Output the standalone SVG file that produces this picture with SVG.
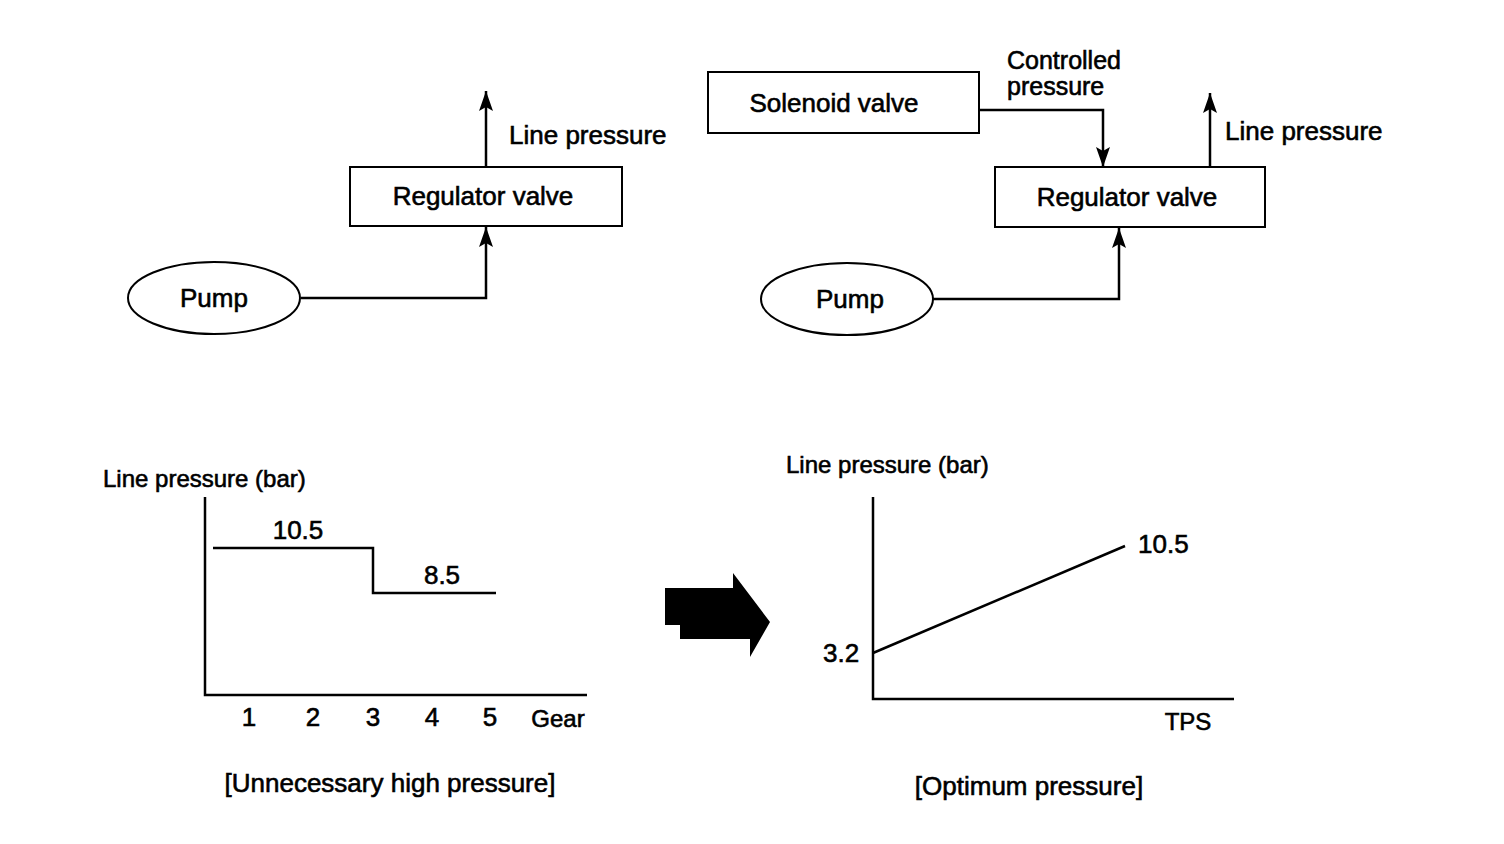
<svg xmlns="http://www.w3.org/2000/svg" width="1504" height="844" viewBox="0 0 1504 844">
<style>
text{font-family:"Liberation Sans",Arial,sans-serif;font-size:26px;fill:#000;stroke:#000;stroke-width:0.6}
.s{font-size:24px}
.c{font-size:25px}
.m{text-anchor:middle}
.box{fill:#fff;stroke:#000;stroke-width:2}
.ln{fill:none;stroke:#000;stroke-width:2.5}
</style>
<defs>
<marker id="ah" viewBox="0 0 20 14" refX="20" refY="7" markerWidth="20" markerHeight="14" markerUnits="userSpaceOnUse" orient="auto">
<path d="M0,0 L20,7 L0,14 L4,7 z" fill="#000"/>
</marker>
</defs>
<rect width="1504" height="844" fill="#fff"/>
<g id="connectors">
<path class="ln" d="M486,167 V91" marker-end="url(#ah)"/>
<path class="ln" d="M301,298 H486 V227" marker-end="url(#ah)"/>
<path class="ln" d="M979,110 H1103 V167" marker-end="url(#ah)"/>
<path class="ln" d="M1210,167 V93" marker-end="url(#ah)"/>
<path class="ln" d="M933,299 H1119 V228" marker-end="url(#ah)"/>
</g>
<g id="regulator-left"><rect class="box" x="350" y="167" width="272" height="59"/><text x="483" y="205" class="m">Regulator valve</text></g>
<g id="pump-left"><ellipse class="box" cx="214" cy="298" rx="86" ry="36"/><text x="214" y="307" class="m">Pump</text></g>
<text x="509" y="144">Line pressure</text>
<g id="solenoid"><rect class="box" x="708" y="72" width="271" height="61"/><text x="834" y="112" class="m">Solenoid valve</text></g>
<text x="1007" y="69" class="c">Controlled</text>
<text x="1007" y="95" class="c">pressure</text>
<g id="regulator-right"><rect class="box" x="995" y="167" width="270" height="60"/><text x="1127" y="206" class="m">Regulator valve</text></g>
<text x="1225" y="140">Line pressure</text>
<g id="pump-right"><ellipse class="box" cx="847" cy="299" rx="86" ry="36"/><text x="850" y="308" class="m">Pump</text></g>
<g id="graph-left">
<path class="ln" d="M205,497 V695 H587"/>
<path class="ln" d="M213,548 H373 V593 H496"/>
<text x="103" y="487" class="s">Line pressure (bar)</text>
<text x="298" y="539" class="m">10.5</text>
<text x="442" y="584" class="m">8.5</text>
<text x="249" y="726" class="m">1</text>
<text x="313" y="726" class="m">2</text>
<text x="373" y="726" class="m">3</text>
<text x="432" y="726" class="m">4</text>
<text x="490" y="726" class="m">5</text>
<text x="558" y="727" class="m s">Gear</text>
<text x="390" y="792" class="m">[Unnecessary high pressure]</text>
</g>
<g id="big-arrow">
<path d="M665,588 H733 V573 L770,622 L750,657 V639 H680 V625 H665 Z" fill="#000"/>
</g>
<g id="graph-right">
<path class="ln" d="M873,497 V699 H1234"/>
<path class="ln" d="M873,653 L1125,546"/>
<text x="786" y="473" class="s">Line pressure (bar)</text>
<text x="1138" y="553">10.5</text>
<text x="823" y="662">3.2</text>
<text x="1188" y="730" class="m s">TPS</text>
<text x="1029" y="795" class="m">[Optimum pressure]</text>
</g>
</svg>
